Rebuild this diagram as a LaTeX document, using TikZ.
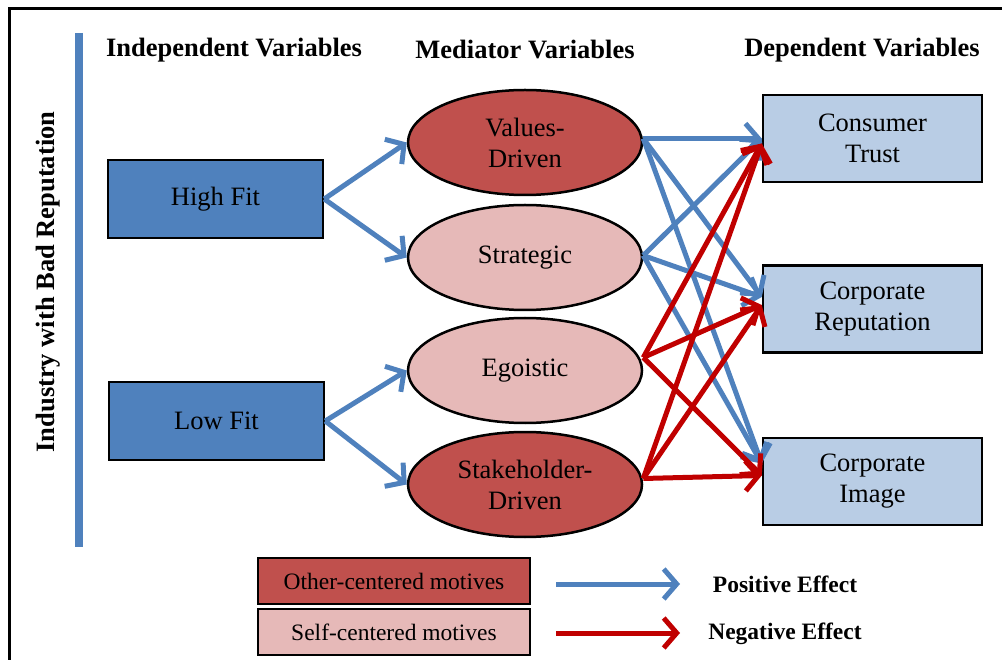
\documentclass[tikz,border=0pt]{standalone}
\usepackage{fontspec}
\setmainfont{Liberation Serif}
\usetikzlibrary{shapes.geometric,arrows.meta,calc}
\definecolor{cblue}{RGB}{79,129,189}
\definecolor{cred}{RGB}{192,80,77}
\definecolor{cpink}{RGB}{230,185,184}
\definecolor{clight}{RGB}{185,205,229}
\definecolor{carrowred}{RGB}{192,0,0}
\tikzset{
  txt/.style={font=\fontsize{26.5}{31}\selectfont},
  header/.style={font=\fontsize{26.5}{31}\selectfont\bfseries},
  indep/.style={draw=black, line width=2.5pt, fill=cblue, minimum width=215pt, minimum height=78pt, inner sep=0pt, txt},
  med/.style={ellipse, draw=black, line width=2.5pt, minimum width=234pt, minimum height=105pt, inner sep=0pt, align=center, txt},
  dep/.style={draw=black, line width=2.5pt, fill=clight, minimum width=219pt, minimum height=87pt, inner sep=0pt, align=center, txt},
  legbox/.style={draw=black, line width=2pt, minimum width=272pt, minimum height=46pt, inner sep=0pt, font=\fontsize{23.5}{28}\selectfont},
  legtxt/.style={font=\fontsize{23.5}{28}\selectfont\bfseries},
  posarrow/.style={draw=cblue, line width=5pt, -{Straight Barb[length=13pt,width=30pt]}},
  negarrow/.style={draw=carrowred, line width=5pt, -{Straight Barb[length=13pt,width=30pt]}},
}
\begin{document}
\begin{tikzpicture}[x=1pt,y=-1pt]
\useasboundingbox (0,0) rectangle (1002,660);
% frame
\draw[line width=3pt] (9,660) -- (9,9) -- (1002,9);
% side bar
\draw[cblue, line width=8pt] (79,33) -- (79,547);
\node[header, rotate=90] (side) at (48,282) {Industry with Bad Reputation};
% headers
\node[header] (h1) at (234,50) {Independent Variables};
\node[header] (h2) at (525,50) {Mediator Variables};
\node[header] (h3) at (862,50) {Dependent Variables};
% independent
\node[indep] (hf) at (215.5,199) {High Fit};
\node[indep] (lf) at (216.5,421) {Low Fit};
% mediators
\node[med, fill=cred] (vd) at (525,142.5) {Values-\\Driven};
\node[med, fill=cpink] (st) at (525,257.5) {Strategic};
\node[med, fill=cpink] (eg) at (525,370.5) {Egoistic};
\node[med, fill=cred] (sd) at (525,484.5) {Stakeholder-\\Driven};
% dependent
\node[dep] (ct) at (872.5,138.5) {Consumer\\Trust};
\node[dep] (cr) at (872.5,309) {Corporate\\Reputation};
\node[dep] (ci) at (872.5,481.5) {Corporate\\Image};
% independent -> mediators
\draw[posarrow] (hf.east) -- (vd.west);
\draw[posarrow] (hf.east) -- (st.west);
\draw[posarrow] (lf.east) -- (eg.west);
\draw[posarrow] (lf.east) -- (sd.west);
% mediators -> dependent
\draw[posarrow] ($(vd.east)+(0,-4)$) -- (ct.west);
\draw[posarrow] ($(vd.east)+(0,-4)$) -- ($(cr.west)+(0,-12)$);
\draw[posarrow] ($(vd.east)+(0,-4)$) -- ($(ci.west)+(0,-18)$);
\draw[posarrow] ($(st.east)+(0,-2)$) -- (ct.west);
\draw[posarrow] ($(st.east)+(0,-2)$) -- ($(cr.west)+(0,-12)$);
\draw[posarrow] ($(st.east)+(0,-2)$) -- ($(ci.west)+(0,-18)$);
\draw[negarrow] ($(eg.east)+(0,-13)$) -- ($(ct.west)+(0,5)$);
\draw[negarrow] ($(eg.east)+(0,-13)$) -- ($(cr.west)+(0,-4)$);
\draw[negarrow] ($(eg.east)+(0,-13)$) -- ($(ci.west)+(0,-6)$);
\draw[negarrow] ($(sd.east)+(0,-6)$) -- ($(ct.west)+(0,5)$);
\draw[negarrow] ($(sd.east)+(0,-6)$) -- ($(cr.west)+(0,-4)$);
\draw[negarrow] ($(sd.east)+(0,-6)$) -- ($(ci.west)+(0,-6)$);
% legend
\node[legbox, fill=cred] (lo) at (394,581) {Other-centered motives};
\node[legbox, fill=cpink] (ls) at (394,632) {Self-centered motives};
\coordinate (pa) at (556,584);
\coordinate (pb) at (680,584);
\coordinate (na) at (556,633);
\coordinate (nb) at (680,633);
\draw[posarrow] (pa) -- (pb);
\draw[negarrow] (na) -- (nb);
\node[legtxt] (pe) at (785,584) {Positive Effect};
\node[legtxt] (ne) at (785,634) {Negative Effect};
\end{tikzpicture}
\end{document}
